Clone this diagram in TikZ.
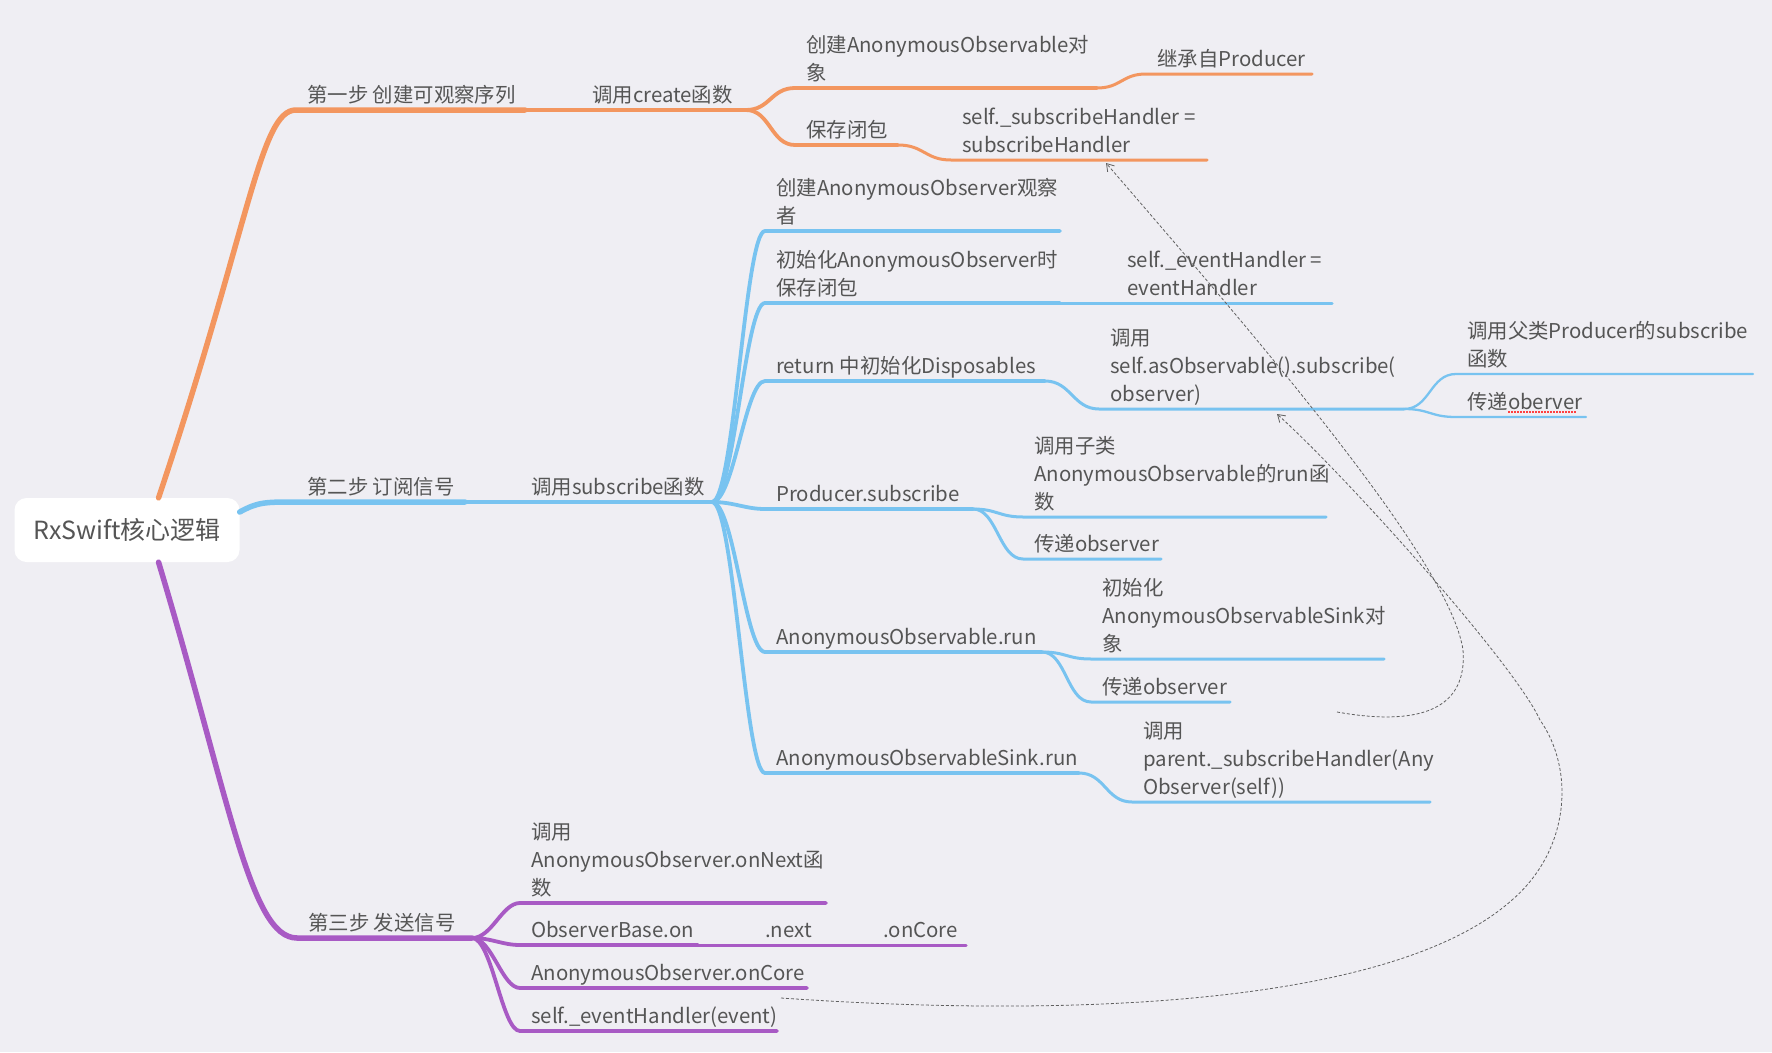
\documentclass[tikz,border=0pt]{standalone}
\usepackage{fontspec}
\setmainfont{Noto Sans CJK SC}
\usepackage{xcolor}
\usetikzlibrary{arrows.meta, positioning, calc}

\definecolor{bgc}{HTML}{EFEEF3}
\definecolor{txt}{HTML}{555555}
\definecolor{orangeL}{HTML}{F3965F}
\definecolor{blueL}{HTML}{78C3F0}
\definecolor{purpleL}{HTML}{A85AC4}
\definecolor{linkc}{HTML}{606060}

\begin{document}
\begin{tikzpicture}[
  x=1pt, y=-1pt,
  topic/.style={anchor=south west, align=left, inner xsep=11pt, inner ysep=1pt,
                text depth=6pt, text=txt, font=\fontsize{20.4}{28}\selectfont},
  rootbox/.style={rectangle, rounded corners=12pt, fill=white, minimum width=225pt,
                  minimum height=64pt, text=txt, font=\fontsize{25}{30}\selectfont},
  lvA/.style={line width=5.5pt, line cap=round},
  lvB/.style={line width=4.5pt, line cap=round},
  lvC/.style={line width=3.8pt, line cap=round},
  lvD/.style={line width=3pt, line cap=round},
  lvE/.style={line width=2.3pt, line cap=round},
  link/.style={draw=linkc, line width=0.8pt, dash pattern=on 3pt off 2pt,
               -{Straight Barb[length=7pt, width=9pt, line width=0.8pt]}},
]
  \fill[bgc] (0,0) rectangle (1772,1052);
  \useasboundingbox (0,0) rectangle (1772,1052);

  \node[rootbox] (root) at (127,530) {RxSwift核心逻辑};

  % step 1 (orange)
  \node[topic] (s1) at (296,110) {第一步 创建可观察序列};
  \draw[lvA, orangeL] ($(root.north)!0.28!(root.north east)$)
        .. controls (250,225) and (260,110) .. (s1.south west) -- ++(229,0) coordinate (s1e);
  \node[topic] (c1) at (581,110) {调用create函数};
  \draw[lvB, orangeL] (s1e) -- (c1.south west) -- ++(165,0) coordinate (c1e);
  \node[topic] (c1a) at (795,88) {创建AnonymousObservable对\\象};
  \draw[lvC, orangeL] (c1e) .. controls +(24,0) and +(-24,0) .. (c1a.south west) -- ++(302,0) coordinate (c1ae);
  \node[topic] (c1a1) at (1146,74) {继承自Producer};
  \draw[lvD, orangeL] (c1ae) .. controls +(24,0) and +(-24,0) .. (c1a1.south west) -- ++(166,0);
  \node[topic] (c1b) at (795,145) {保存闭包};
  \draw[lvC, orangeL] (c1e) .. controls +(24,0) and +(-24,0) .. (c1b.south west) -- ++(103,0) coordinate (c1be);
  \node[topic] (c1b1) at (951,160) {self.\_subscribeHandler =\\subscribeHandler};
  \draw[lvD, orangeL] (c1be) .. controls +(26,0) and +(-26,0) .. (c1b1.south west) -- ++(256,0);

  % step 2 (blue)
  \node[topic] (s2) at (296,502) {第二步 订阅信号};
  \draw[lvA, blueL] ($(root.east)+(0,-18)$) .. controls (258,502) and (265,502) .. (s2.south west)
        -- ++(169,0) coordinate (s2e);
  \node[topic] (c2) at (520,502) {调用subscribe函数};
  \draw[lvB, blueL] (s2e) -- (c2.south west) -- ++(192,0) coordinate (c2e);

  \node[topic] (b1) at (765,231) {创建AnonymousObserver观察\\者};
  \node[topic] (b2) at (765,303) {初始化AnonymousObserver时\\保存闭包};
  \node[topic] (b3) at (765,381) {return 中初始化Disposables};
  \node[topic] (b4) at (765,509) {Producer.subscribe};
  \node[topic] (b5) at (765,652) {AnonymousObservable.run};
  \node[topic] (b6) at (765,773) {AnonymousObservableSink.run};
  \foreach \n/\len in {b1/295, b2/295, b3/280, b4/208, b5/277, b6/314}
    \draw[lvC, blueL] (c2e) .. controls +(22,0) and +(-20,0) .. (\n.south west) -- ++(\len,0) coordinate (\n e);

  \node[topic] (b2a) at (1116,303) {self.\_eventHandler =\\eventHandler};
  \draw[lvD, blueL] (b2e) -- (b2a.south west) -- ++(216,0);

  \node[topic] (b3a) at (1099,409) {调用\\self.asObservable().subscribe(\\observer)};
  \draw[lvD, blueL] (b3e) .. controls +(26,0) and +(-26,0) .. (b3a.south west) -- ++(305,0) coordinate (b3ae);
  \node[topic] (b3a1) at (1456,374) {调用父类Producer的subscribe\\函数};
  \node[topic] (b3a2) at (1456,417) {传递oberver};
  \draw[lvE, blueL] (b3ae) .. controls +(26,0) and +(-26,0) .. (b3a1.south west) -- ++(297,0);
  \draw[lvE, blueL] (b3ae) .. controls +(26,0) and +(-26,0) .. (b3a2.south west) -- ++(130,0);
  \draw[red!75, line width=1.6pt, dash pattern=on 1.6pt off 1.4pt]
        ($(b3a2.south west)+(52,-5)$) -- ++(68,0);

  \node[topic] (b4a) at (1023,517) {调用子类\\AnonymousObservable的run函\\数};
  \node[topic] (b4b) at (1023,559) {传递observer};
  \draw[lvD, blueL] (b4e) .. controls +(24,0) and +(-24,0) .. (b4a.south west) -- ++(303,0);
  \draw[lvD, blueL] (b4e) .. controls +(24,0) and +(-24,0) .. (b4b.south west) -- ++(138,0);

  \node[topic] (b5a) at (1091,659) {初始化\\AnonymousObservableSink对\\象};
  \node[topic] (b5b) at (1091,702) {传递observer};
  \draw[lvD, blueL] (b5e) .. controls +(24,0) and +(-24,0) .. (b5a.south west) -- ++(293,0);
  \draw[lvD, blueL] (b5e) .. controls +(24,0) and +(-24,0) .. (b5b.south west) -- ++(139,0);

  \node[topic] (b6a) at (1132,802) {调用\\parent.\_subscribeHandler(Any\\Observer(self))};
  \draw[lvD, blueL] (b6e) .. controls +(26,0) and +(-26,0) .. (b6a.south west) -- ++(298,0);

  % step 3 (purple)
  \node[topic] (s3) at (297,938) {第三步 发送信号};
  \draw[lvA, purpleL] ($(root.south)!0.28!(root.south east)$)
        .. controls (230,800) and (250,938) .. (s3.south west) -- ++(175,0) coordinate (s3e);

  \node[topic] (p1) at (520,903) {调用\\AnonymousObserver.onNext函\\数};
  \node[topic] (p2) at (520,945) {ObserverBase.on};
  \node[topic] (p3) at (520,988) {AnonymousObserver.onCore};
  \node[topic] (p4) at (520,1031) {self.\_eventHandler(event)};
  \foreach \n/\len in {p1/306, p2/178, p3/287, p4/257}
    \draw[lvC, purpleL] (s3e) .. controls +(20,0) and +(-18,0) .. (\n.south west) -- ++(\len,0) coordinate (\n e);

  \node[topic] (p2a) at (754,945) {.next};
  \node[topic] (p2b) at (872,945) {.onCore};
  \draw[lvD, purpleL] (p2e) -- (p2a.south west) -- ++(64,0) coordinate (p2ae);
  \draw[lvD, purpleL] (p2ae) -- (p2b.south west) -- ++(94,0);

  % dotted call links
  \coordinate (hookfrom) at ($(b6a.south west)+(205,-90)$);
  \coordinate (hookto) at ($(c1b1.south west)+(155,3)$);
  \coordinate (loopfrom) at ($(p3.south west)+(261,10)$);
  \coordinate (loopto) at ($(b3a.south west)+(178,5)$);
  \draw[link] (hookfrom) .. controls (1410,725) and (1468,715) .. (1463,650)
        .. controls (1450,560) and (1250,330) .. (hookto);
  \draw[link] (loopfrom) .. controls (1100,1020) and (1400,1000) .. (1512,900)
        .. controls (1570,850) and (1575,770) .. (1540,720)
        .. controls (1515,665) and (1350,480) .. (loopto);
\end{tikzpicture}
\end{document}
